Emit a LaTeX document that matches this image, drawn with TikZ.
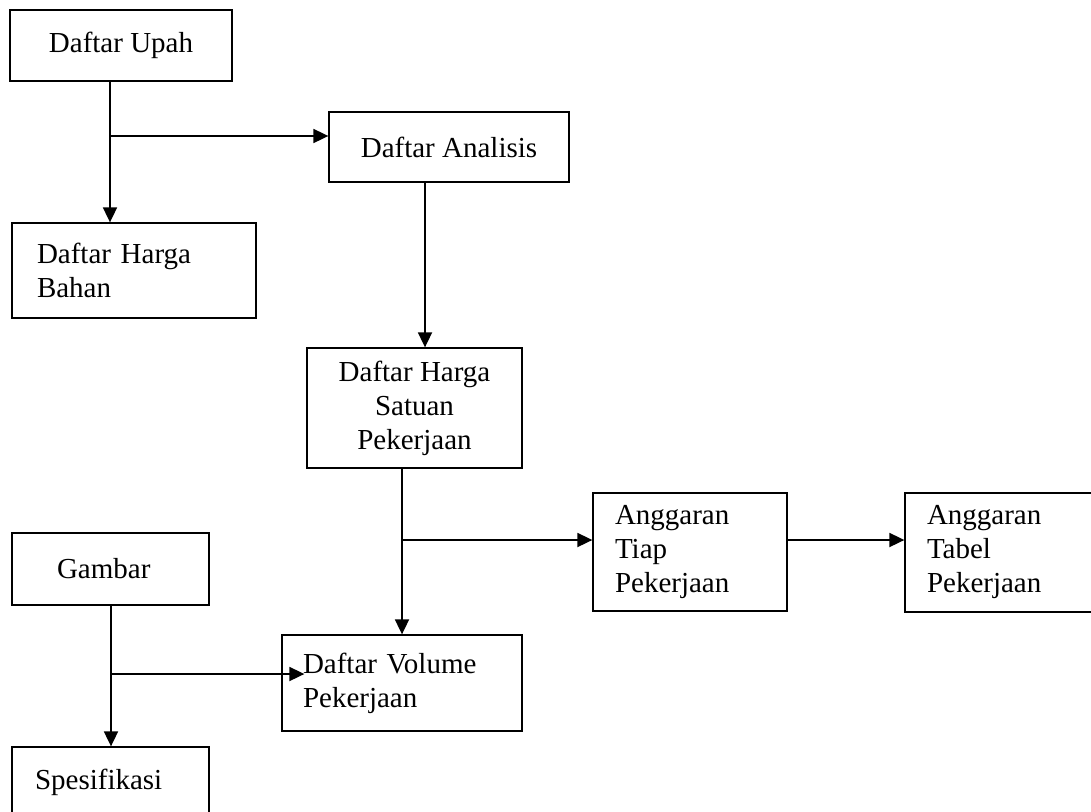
\documentclass[tikz,border=0pt]{standalone}
\usepackage{fontspec}
\setmainfont{Liberation Serif}
\usetikzlibrary{arrows.meta,calc}
\begin{document}
\begin{tikzpicture}[x=1pt,y=-1pt,
  box/.style={draw,line width=1.3pt,inner sep=0pt,font=\fontsize{29}{34}\selectfont},
  cbox/.style={box,align=center},
  lbox/.style={box,align=left},
  arr/.style={line width=1.8pt,-{Triangle[length=15pt,width=14pt]}},
  ln/.style={line width=1.8pt}]
\useasboundingbox (0,0) rectangle (1091,811);
\clip (0,0) rectangle (1091,811);
\fill[white] (0,0) rectangle (1091,811);
% boxes
\node[cbox,minimum width=222pt,minimum height=71pt] (upah) at (121,45.5) {Daftar Upah};
\node[cbox,minimum width=240pt,minimum height=70pt] (analisis) at (449,147) {Daftar Analisis};
\node[lbox,minimum height=95pt,text width=194pt,inner xsep=25pt] (bahan) at (134,270.5) {Daftar Harga\\Bahan};
\node[cbox,minimum width=215pt,minimum height=120pt] (satuan) at (414.5,408) {Daftar Harga\\Satuan\\Pekerjaan};
\node[lbox,minimum height=118pt,text width=150pt,inner xsep=22pt] (tiap) at (690,552) {Anggaran\\Tiap\\Pekerjaan};
\node[lbox,minimum height=119pt,text width=161pt,inner xsep=22pt] (tabel) at (1007.5,552.5) {Anggaran\\Tabel\\Pekerjaan};
\node[lbox,minimum height=72pt,text width=107pt,inner xsep=45pt] (gambar) at (110.5,569) {Gambar};
\node[lbox,minimum height=96pt,text width=198pt,inner xsep=21pt] (volume) at (402,683) {Daftar Volume\\Pekerjaan};
\node[lbox,minimum height=70pt,text width=151pt,inner xsep=23pt] (spes) at (110.5,782) {Spesifikasi};
% junctions
\coordinate (j1) at (110,136);
\coordinate (c2) at (425,0);
\coordinate (j2) at (402,540);
\coordinate (j3) at (111,674);
% connectors
\draw[arr] (upah.south -| j1) -- (j1 |- bahan.north);
\draw[arr] (j1) -- (j1 -| analisis.west);
\draw[arr] (c2 |- analisis.south) -- (c2 |- satuan.north);
\draw[arr] (satuan.south -| volume.north) -- (volume.north);
\draw[arr] (j2) -- (j2 -| tiap.west);
\draw[arr] (tiap.east |- j2) -- (tabel.west |- j2);
\draw[arr] (gambar.south -| j3) -- (j3 |- spes.north);
\draw[arr] (j3) -- ($(j3 -| volume.west)+(23,0)$);
\end{tikzpicture}
\end{document}
